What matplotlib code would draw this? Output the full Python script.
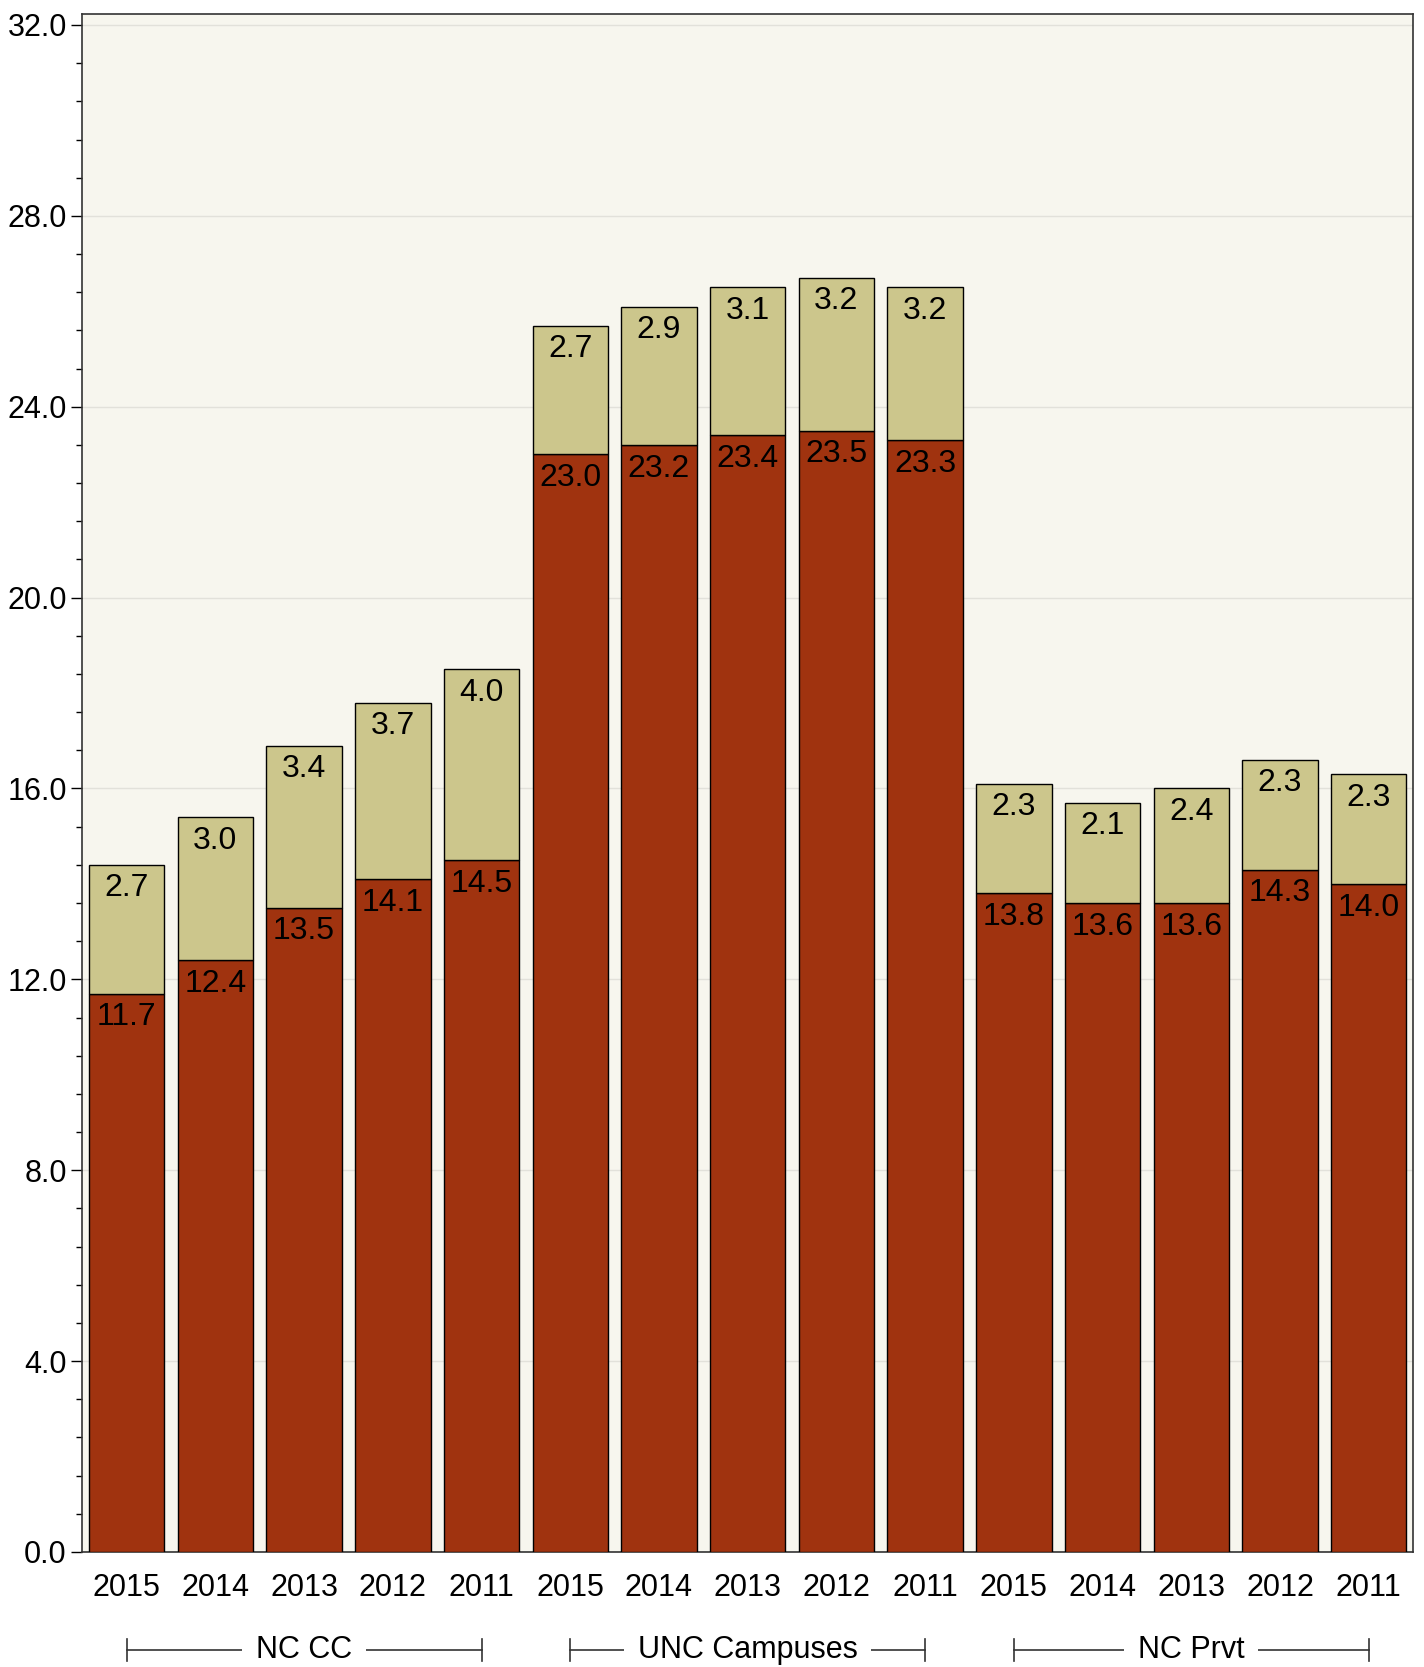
import numpy as np
import matplotlib.pyplot as plt
import matplotlib.transforms as mtransforms
from matplotlib.ticker import MultipleLocator, FormatStrFormatter

plt.rcParams['font.family'] = ['Liberation Sans', 'DejaVu Sans']

years = ["2015", "2014", "2013", "2012", "2011"] * 3
groups = ["NC CC", "UNC Campuses", "NC Prvt"]
bottom_vals = [11.7, 12.4, 13.5, 14.1, 14.5,
               23.0, 23.2, 23.4, 23.5, 23.3,
               13.8, 13.6, 13.6, 14.3, 14.0]
top_vals = [2.7, 3.0, 3.4, 3.7, 4.0,
            2.7, 2.9, 3.1, 3.2, 3.2,
            2.3, 2.1, 2.4, 2.3, 2.3]

RED = "#A0330F"
TAN = "#CCC68C"
BG = "#F7F6EE"

fig = plt.figure(figsize=(14.24, 16.67), dpi=100)
ax = fig.add_axes([0.0576, 0.069, 0.9347, 0.9226])
ax.set_facecolor(BG)

x = np.arange(len(years))
w = 0.85
ax.bar(x, bottom_vals, w, color=RED, edgecolor="black", linewidth=1, zorder=3)
ax.bar(x, top_vals, w, bottom=bottom_vals, color=TAN, edgecolor="black", linewidth=1, zorder=3)

for i in range(len(x)):
    b = bottom_vals[i]
    t = top_vals[i]
    ax.annotate(f"{b:.1f}", (x[i], b), xytext=(0, -17), textcoords="offset points",
                ha="center", va="center", fontsize=23, zorder=4)
    ax.annotate(f"{t:.1f}", (x[i], b + t), xytext=(0, -17), textcoords="offset points",
                ha="center", va="center", fontsize=23, zorder=4)

ax.set_xlim(-0.503, 14.5)
ax.set_ylim(0, 32.23)
ax.yaxis.set_major_locator(MultipleLocator(4))
ax.yaxis.set_minor_locator(MultipleLocator(0.8))
ax.yaxis.set_major_formatter(FormatStrFormatter("%.1f"))
ax.grid(axis="y", which="major", color="#E2E1DA", linewidth=1, zorder=0)
ax.tick_params(axis="y", which="major", length=8, width=1, labelsize=22, pad=3, direction="out")
ax.tick_params(axis="y", which="minor", length=4, width=1, direction="out")
ax.set_xticks(x)
ax.set_xticklabels(years)
ax.tick_params(axis="x", length=0, labelsize=22, pad=15)
for s in ax.spines.values():
    s.set_color("#333333")
    s.set_linewidth(1.2)

trans = mtransforms.blended_transform_factory(ax.transData, ax.transAxes)
yb = -0.0637
for g, name in enumerate(groups):
    x0 = g * 5
    x1 = g * 5 + 4
    ax.plot([x0, x1], [yb, yb], color="#333333", linewidth=1.2, transform=trans, clip_on=False)
    for xx in (x0, x1):
        ax.plot([xx, xx], [yb - 0.007, yb + 0.007], color="#333333", linewidth=1.2,
                transform=trans, clip_on=False)
    ax.text(x0 + 2, yb, name, transform=trans, ha="center", va="center", fontsize=22,
            bbox=dict(facecolor="white", edgecolor="none", pad=10))

fig.savefig("out.png", dpi=100)
